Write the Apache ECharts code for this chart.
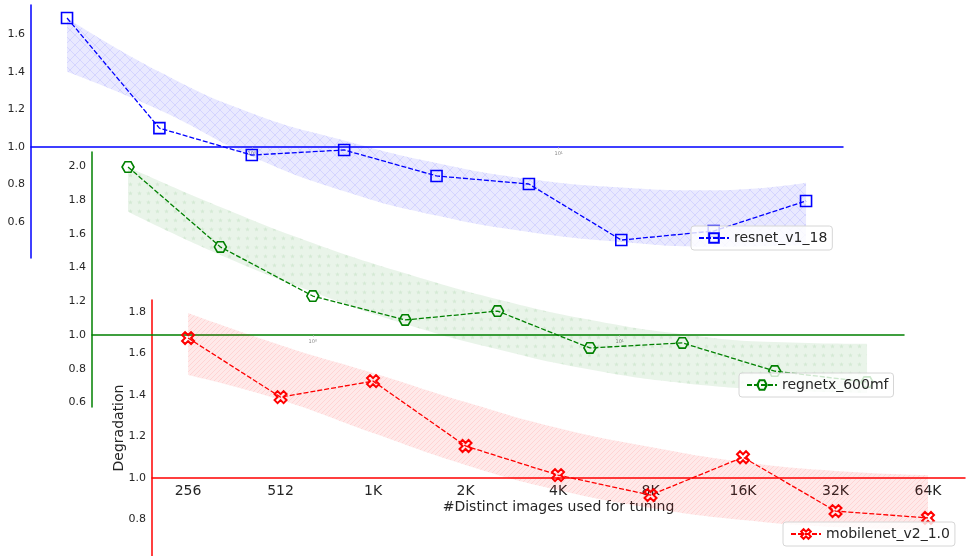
<!DOCTYPE html>
<html>
<head>
    <meta charset="UTF-8">
    <title>Degradation vs distinct tuning images</title>
    <script src="https://cdn.jsdelivr.net/npm/echarts@6/dist/echarts.min.js"></script>
    <style>
        body { margin: 0; background: #fff; }
    </style>
</head>
<body>
    <div id="main" style="width: 971px; height: 556px;"></div>

    <script>
        // Data
        var xLabels = ['256', '512', '1K', '2K', '4K', '8K', '16K', '32K', '64K'];
        var xPos = [0, 1, 2, 3, 4, 5, 6, 7, 8];

        var resnetMean = [1.686, 1.10, 0.957, 0.984, 0.846, 0.803, 0.505, 0.553, 0.713];
        var resnetLow = [1.40, 1.197, 0.95, 0.765, 0.635, 0.548, 0.495, 0.47, 0.478];
        var resnetHigh = [1.686, 1.40, 1.18, 1.035, 0.915, 0.83, 0.785, 0.77, 0.81];

        var regnetMean = [1.996, 1.522, 1.231, 1.089, 1.142, 0.923, 0.953, 0.786, 0.721];
        var regnetLow = [1.730, 1.474, 1.255, 1.065, 0.915, 0.795, 0.715, 0.674, 0.656];
        var regnetHigh = [1.996, 1.759, 1.546, 1.366, 1.212, 1.09, 1.005, 0.958, 0.947];

        var mobileMean = [1.673, 1.389, 1.466, 1.154, 1.014, 0.918, 1.10, 0.841, 0.808];
        var mobileLow = [1.495, 1.375, 1.216, 1.063, 0.942, 0.856, 0.798, 0.764, 0.75];
        var mobileHigh = [1.793, 1.639, 1.505, 1.365, 1.240, 1.149, 1.077, 1.034, 1.014];

        var resnetTicks = [0.6, 0.8, 1.0, 1.2, 1.4, 1.6];
        var regnetTicks = [0.6, 0.8, 1.0, 1.2, 1.4, 1.6, 1.8, 2.0];
        var mobileTicks = [0.8, 1.0, 1.2, 1.4, 1.6, 1.8];
        var logTicks = [2, 2 + Math.log2(10)];   // leftover log-axis labels
        var logLabels = ['10\u2070', '10\u00b9'];

        var FONT = 'DejaVu Sans';
        var TXT = '#262626';

        // hatch tiles for the spread bands
        function makeTile(kind, rgb) {
            var c = document.createElement('canvas');
            var s = kind === 'lines' ? 5 : (kind === 'stars' ? 9 : 10);
            c.width = s; c.height = s;
            var g = c.getContext('2d');
            g.fillStyle = 'rgba(' + rgb + ',0.085)';
            g.fillRect(0, 0, s, s);
            g.strokeStyle = 'rgba(' + rgb + ',0.09)';
            g.fillStyle = 'rgba(' + rgb + ',0.09)';
            g.lineWidth = 1;
            if (kind === 'cross') {
                g.beginPath();
                g.moveTo(0, 0); g.lineTo(s, s);
                g.moveTo(s, 0); g.lineTo(0, s);
                g.stroke();
            } else if (kind === 'lines') {
                g.beginPath();
                g.moveTo(0, s); g.lineTo(s, 0);
                g.moveTo(-1, 1); g.lineTo(1, -1);
                g.moveTo(s - 1, s + 1); g.lineTo(s + 1, s - 1);
                g.stroke();
            } else {
                g.beginPath();
                for (var i = 0; i < 10; i++) {
                    var r = i % 2 === 0 ? 2.6 : 1.1;
                    var a = -Math.PI / 2 + i * Math.PI / 5;
                    var px = 4.5 + r * Math.cos(a), py = 4.5 + r * Math.sin(a);
                    if (i === 0) g.moveTo(px, py); else g.lineTo(px, py);
                }
                g.closePath();
                g.fill();
            }
            return { image: c, repeat: 'repeat' };
        }

        var hexPath = 'path://M-10,0 L-5,-8.66 L5,-8.66 L10,0 L5,8.66 L-5,8.66 Z';
        var xPathSym = 'path://M-5,0 L-10,-5 L-5,-10 L0,-5 L5,-10 L10,-5 L5,0 L10,5 L5,10 L0,5 L-5,10 L-10,5 Z';

        var panels = [
            { name: 'resnet_v1_18', color: '#0000ff', rgb: '0,0,255', tile: 'cross',
              mean: resnetMean, low: resnetLow, high: resnetHigh, ticks: resnetTicks,
              symbol: 'rect', symbolSize: 11,
              grid: { left: 31, top: 5, width: 812, height: 253 }, yMin: 0.4096, yMax: 1.755,
              legend: { left: 691, top: 226 } },
            { name: 'regnetx_600mf', color: '#008000', rgb: '0,128,0', tile: 'stars',
              mean: regnetMean, low: regnetLow, high: regnetHigh, ticks: regnetTicks,
              symbol: hexPath, symbolSize: 12,
              grid: { left: 92, top: 152, width: 812, height: 255 }, yMin: 0.573, yMax: 2.085,
              legend: { left: 739, top: 373 } },
            { name: 'mobilenet_v2_1.0', color: '#ff0000', rgb: '255,0,0', tile: 'lines',
              mean: mobileMean, low: mobileLow, high: mobileHigh, ticks: mobileTicks,
              symbol: xPathSym, symbolSize: 12,
              grid: { left: 152, top: 300, width: 813, height: 256 }, yMin: 0.625, yMax: 1.856,
              legend: { left: 783, top: 522 } }
        ];

        var grids = [], xAxes = [], yAxes = [], series = [], legends = [];

        panels.forEach(function (p, k) {
            var last = k === panels.length - 1;
            grids.push(Object.assign({ outerBoundsMode: 'none' }, p.grid));

            // x spine sits at degradation = 1.0
            var off = -(1 - p.yMin) / (p.yMax - p.yMin) * p.grid.height;
            xAxes.push({
                gridIndex: k,
                type: 'value',
                min: -0.39,
                max: 8.4,
                position: 'bottom',
                offset: off,
                axisLine: { show: true, onZero: false, lineStyle: { color: p.color, width: 1.5 } },
                splitLine: { show: false },
                axisTick: last ? { show: false } : {
                    show: true, length: 2, customValues: logTicks, lineStyle: { color: '#bbb', width: 0.6 }
                },
                axisLabel: last ? {
                    customValues: xPos,
                    margin: 6,
                    fontFamily: FONT, fontSize: 14, color: TXT,
                    formatter: function (v) { return xLabels[Math.round(v)]; }
                } : {
                    customValues: logTicks,
                    margin: 4,
                    fontFamily: FONT, fontSize: 5, color: '#888',
                    formatter: function (v) { return v < 3 ? logLabels[0] : logLabels[1]; }
                },
                name: last ? '#Distinct images used for tuning' : '',
                nameLocation: 'middle',
                nameGap: 22,
                nameMoveOverlap: false,
                nameTextStyle: { fontFamily: FONT, fontSize: 14, color: TXT }
            });

            yAxes.push({
                gridIndex: k,
                type: 'value',
                min: p.yMin,
                max: p.yMax,
                position: 'left',
                axisLine: { show: true, onZero: false, lineStyle: { color: p.color, width: 1.5 } },
                axisTick: { show: false },
                splitLine: { show: false },
                axisLabel: {
                    customValues: p.ticks,
                    margin: 6,
                    fontFamily: FONT, fontSize: 11, color: TXT,
                    formatter: function (v) { return v.toFixed(1); }
                },
                name: last ? 'Degradation' : '',
                nameLocation: 'middle',
                nameGap: 26,
                nameMoveOverlap: false,
                nameTextStyle: { fontFamily: FONT, fontSize: 14, color: TXT }
            });

            // band: lower edge + (upper - lower) stacked on y; y is put first so it is the stacked dim
            var stackId = 'band' + k;
            series.push({
                type: 'line',
                xAxisIndex: k, yAxisIndex: k,
                stack: stackId,
                encode: { x: 1, y: 0 },
                data: xPos.map(function (x, i) { return [p.low[i], x]; }),
                symbol: 'none',
                smooth: 0.5,
                lineStyle: { opacity: 0 },
                silent: true,
                z: 1
            });
            series.push({
                type: 'line',
                xAxisIndex: k, yAxisIndex: k,
                stack: stackId,
                encode: { x: 1, y: 0 },
                data: xPos.map(function (x, i) { return [p.high[i] - p.low[i], x]; }),
                symbol: 'none',
                smooth: 0.5,
                lineStyle: { opacity: 0 },
                areaStyle: { color: makeTile(p.tile, p.rgb), opacity: 1 },
                silent: true,
                z: 1
            });
            series.push({
                name: p.name,
                type: 'line',
                xAxisIndex: k, yAxisIndex: k,
                data: xPos.map(function (x, i) { return [x, p.mean[i]]; }),
                symbol: p.symbol,
                symbolSize: p.symbolSize,
                symbolKeepAspect: true,
                showAllSymbol: true,
                lineStyle: { color: p.color, width: 1.3, type: [5, 2] },
                itemStyle: { color: 'rgba(255,255,255,0)', borderColor: p.color, borderWidth: k === 2 ? 2 : 1.6 },
                z: 3
            });

            legends.push({
                data: [p.name],
                left: p.legend.left,
                top: p.legend.top,
                orient: 'vertical',
                padding: [5, 5, 5, 7],
                itemWidth: 30,
                itemHeight: 12,
                backgroundColor: 'rgba(255,255,255,0.8)',
                borderColor: '#d6d6d6',
                borderWidth: 1,
                borderRadius: 3,
                selectedMode: false,
                textStyle: { fontFamily: FONT, fontSize: 14, color: TXT }
            });
        });

        var chart = echarts.init(document.getElementById('main'));
        chart.setOption({
            animation: false,
            backgroundColor: '#ffffff',
            textStyle: { fontFamily: FONT },
            grid: grids,
            xAxis: xAxes,
            yAxis: yAxes,
            legend: legends,
            series: series
        });
    </script>
</body>
</html>
